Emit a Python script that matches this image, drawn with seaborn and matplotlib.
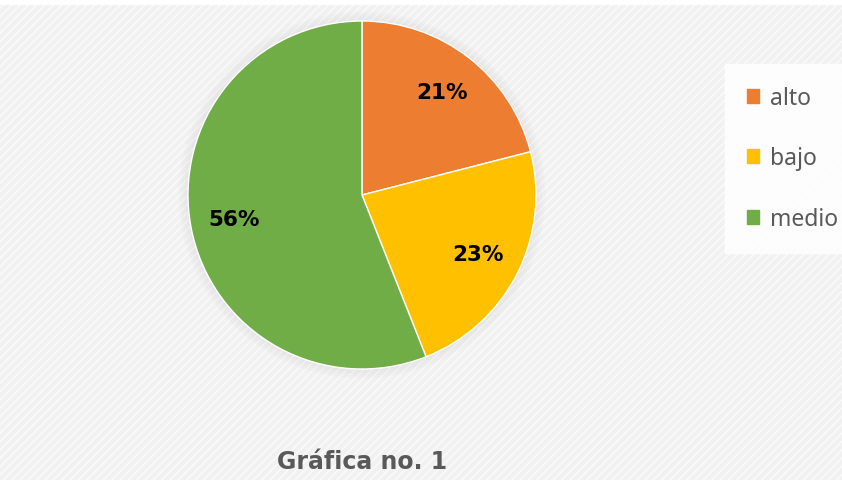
import numpy as np
import matplotlib
matplotlib.use("Agg")
from matplotlib import pyplot as plt
from matplotlib.patches import Patch, Rectangle, Circle
import seaborn as sns

categories = ["alto", "bajo", "medio"]
shares = [21, 23, 56]
colors = ["#ED7D31", "#FFC000", "#70AD47"]
title = "Gráfica no. 1"

sns.set_theme(style="white")
plt.rcParams["font.family"] = ["Noto Sans", "DejaVu Sans"]

fig = plt.figure(figsize=(8.42, 4.81), dpi=100)
fig.patch.set_facecolor("white")

# hatched light gray background
bg = Rectangle((0, 0), 1, 1 - 6 / 481, transform=fig.transFigure,
               facecolor="#f1f1f1", edgecolor="#fbfbfb", hatch="////",
               linewidth=0, zorder=-10)
fig.patches.append(bg)

ax = fig.add_axes([188 / 842, 111 / 481, 348 / 842, 348 / 481])
ax.set_facecolor("none")

# soft shadow around the pie
for r in np.linspace(1.05, 1.0, 6):
    ax.add_patch(Circle((0, 0), r, color="#c0c0c0", alpha=0.035,
                        clip_on=False, zorder=0))

wedges, texts, autotexts = ax.pie(
    shares, colors=colors, startangle=90, counterclock=False,
    autopct="%1.0f%%", pctdistance=0.75, radius=1,
    wedgeprops=dict(edgecolor="white", linewidth=1),
    textprops=dict(fontsize=15.5, fontweight="bold", color="black",
                   family="DejaVu Sans"))
for w in wedges:
    w.set_zorder(2)
for t in autotexts:
    t.set_zorder(3)
ax.set_xlim(-1, 1)
ax.set_ylim(-1, 1)
ax.set_aspect("equal")
ax.axis("off")

handles = [Patch(facecolor=c, edgecolor=c) for c in colors]
leg = fig.legend(handles, categories, loc="upper left",
                 bbox_to_anchor=(725 / 842, 1 - 65 / 481),
                 frameon=True, fancybox=False, fontsize=16.5,
                 labelspacing=1.6, handlelength=0.55, handleheight=0.55,
                 handletextpad=0.45, borderpad=0.95, borderaxespad=0)
leg.get_frame().set_facecolor("white")
leg.get_frame().set_edgecolor("white")
for t in leg.get_texts():
    t.set_color("#595959")

fig.text(362 / 842, 1 - 462 / 481, title, ha="center", va="center",
         fontsize=17, fontweight="bold", color="#595959",
         family="DejaVu Sans")

fig.savefig("out.png", dpi=100, facecolor=fig.get_facecolor())
